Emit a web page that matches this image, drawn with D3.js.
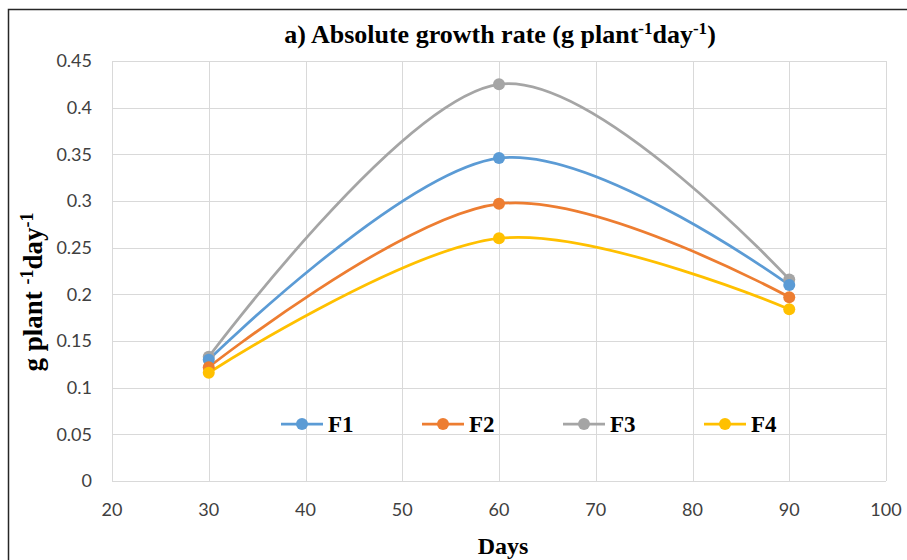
<!DOCTYPE html>
<html>
<head>
<meta charset="utf-8">
<script src="https://cdn.jsdelivr.net/npm/d3@7"></script>
<style>
  body { margin: 0; background: #fff; }
  svg { display: block; }
</style>
</head>
<body>
<div id="chart"></div>
<script>
// data
const days = [30, 60, 90];
const seriesNames = ["F1", "F2", "F3", "F4"];
const seriesColors = ["#5b9bd5", "#ed7d31", "#a5a5a5", "#ffc000"];
const f1 = [0.130, 0.346, 0.210];
const f2 = [0.122, 0.297, 0.197];
const f3 = [0.133, 0.425, 0.216];
const f4 = [0.116, 0.260, 0.184];
const xTicks = [20, 30, 40, 50, 60, 70, 80, 90, 100];
const yTicks = [0, 0.05, 0.1, 0.15, 0.2, 0.25, 0.3, 0.35, 0.4, 0.45];

const width = 907, height = 560;
const plot = {left: 112, right: 886, top: 61, bottom: 481};
const serif = "'Liberation Serif', 'Times New Roman', serif";
const sans = "Lato, 'Open Sans', sans-serif";

const svg = d3.select("#chart").append("svg")
  .attr("width", width)
  .attr("height", height);

// outer frame (only top and left edge visible)
svg.append("path")
  .attr("d", "M8.5," + height + "V9.5H" + width)
  .attr("fill", "none")
  .attr("stroke", "#262626")
  .attr("stroke-width", 1.5);

const x = d3.scaleLinear().domain([20, 100]).range([plot.left, plot.right]);
const y = d3.scaleLinear().domain([0, 0.45]).range([plot.bottom, plot.top]);

// grid
svg.append("g").selectAll("line.v")
  .data(xTicks).enter().append("line")
  .attr("x1", d => Math.round(x(d)) + 0.5).attr("x2", d => Math.round(x(d)) + 0.5)
  .attr("y1", plot.top).attr("y2", plot.bottom)
  .attr("stroke", "#d9d9d9").attr("stroke-width", 1);

svg.append("g").selectAll("line.h")
  .data(yTicks).enter().append("line")
  .attr("x1", plot.left).attr("x2", plot.right)
  .attr("y1", d => Math.round(y(d)) + 0.5).attr("y2", d => Math.round(y(d)) + 0.5)
  .attr("stroke", "#d9d9d9").attr("stroke-width", 1);

// tick labels
svg.append("g").selectAll("text")
  .data(yTicks).enter().append("text")
  .attr("x", 92)
  .attr("y", d => y(d))
  .attr("dy", "0.35em")
  .attr("text-anchor", "end")
  .attr("font-family", sans)
  .attr("font-size", 18)
  .attr("fill", "#404040")
  .text(d => d3.format("")(+d.toFixed(2)));

svg.append("g").selectAll("text")
  .data(xTicks).enter().append("text")
  .attr("x", d => x(d))
  .attr("y", 510)
  .attr("dy", "0.35em")
  .attr("text-anchor", "middle")
  .attr("font-family", sans)
  .attr("font-size", 18)
  .attr("fill", "#404040")
  .text(d => d);

// title
const title = svg.append("text")
  .attr("x", 500)
  .attr("y", 43)
  .attr("text-anchor", "middle")
  .attr("font-family", serif)
  .attr("font-weight", "bold")
  .attr("font-size", 26)
  .attr("fill", "#000");
title.append("tspan").text("a) Absolute growth rate (g plant");
title.append("tspan").attr("dy", -9).attr("font-size", 17).text("-1");
title.append("tspan").attr("dy", 9).text("day");
title.append("tspan").attr("dy", -9).attr("font-size", 17).text("-1");
title.append("tspan").attr("dy", 9).text(")");

// axis titles
svg.append("text")
  .attr("x", 503)
  .attr("y", 554)
  .attr("text-anchor", "middle")
  .attr("font-family", serif)
  .attr("font-weight", "bold")
  .attr("font-size", 24)
  .text("Days");

const yTitle = svg.append("text")
  .attr("transform", "translate(42,292) rotate(-90)")
  .attr("text-anchor", "middle")
  .attr("font-family", serif)
  .attr("font-weight", "bold")
  .attr("font-size", 27);
yTitle.append("tspan").text("g plant ");
yTitle.append("tspan").attr("dy", -9).attr("font-size", 18).text("-1");
yTitle.append("tspan").attr("dy", 9).text("day");
yTitle.append("tspan").attr("dy", -9).attr("font-size", 18).text("-1");

// series
const allSeries = [f1, f2, f3, f4].map((vals, i) => ({
  name: seriesNames[i],
  color: seriesColors[i],
  points: days.map((d, j) => ({day: d, value: vals[j]}))
}));

const line = d3.line()
  .x(d => x(d.day))
  .y(d => y(d.value))
  .curve(d3.curveCardinal.tension(0));

// draw F3 first so F1 markers sit on top like the reference stacking
const drawOrder = [2, 0, 1, 3];
drawOrder.forEach(i => {
  const s = allSeries[i];
  svg.append("path")
    .datum(s.points)
    .attr("d", line)
    .attr("fill", "none")
    .attr("stroke", s.color)
    .attr("stroke-width", 2.75);
});
drawOrder.forEach(i => {
  const s = allSeries[i];
  svg.append("g").selectAll("circle")
    .data(s.points).enter().append("circle")
    .attr("cx", d => x(d.day))
    .attr("cy", d => y(d.value))
    .attr("r", 6)
    .attr("fill", s.color);
});

// legend
const legendX = [281, 422, 563, 704];
const legend = svg.append("g").selectAll("g")
  .data(allSeries).enter().append("g")
  .attr("transform", (d, i) => "translate(" + legendX[i] + ",424)");
legend.append("line")
  .attr("x1", 0).attr("x2", 42)
  .attr("stroke", d => d.color)
  .attr("stroke-width", 2.75);
legend.append("circle")
  .attr("cx", 21).attr("r", 6)
  .attr("fill", d => d.color);
legend.append("text")
  .attr("x", 47)
  .attr("dy", "0.35em")
  .attr("font-family", serif)
  .attr("font-weight", "bold")
  .attr("font-size", 23)
  .text(d => d.name);
</script>
</body>
</html>
